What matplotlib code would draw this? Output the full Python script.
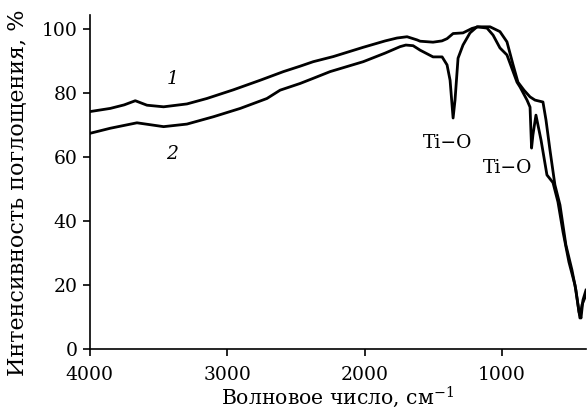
import matplotlib.pyplot as plt

# IR spectra
wn1 = [4000, 3851, 3750, 3669, 3584, 3463, 3293, 3148, 2956, 2760, 2591, 2469,
       2374, 2228, 2010, 1850, 1764, 1691, 1618, 1596, 1502, 1437, 1400, 1356,
       1284, 1218, 1175, 1087, 1015, 964, 920, 884, 840, 796, 760, 702, 680,
       651, 615, 578, 535, 491, 462, 440, 425, 411, 389]
ab1 = [74.2, 75.2, 76.3, 77.6, 76.2, 75.7, 76.6, 78.3, 81.0, 84.0, 86.7, 88.4,
       89.8, 91.4, 94.3, 96.3, 97.2, 97.6, 96.6, 96.2, 95.9, 96.3, 97.0, 98.6,
       98.8, 100.2, 100.7, 100.7, 99.2, 96.0, 88.9, 83.4, 80.9, 78.8, 77.8, 77.2, 71.6,
       62.2, 51.3, 45.0, 32.5, 24.7, 18.4, 11.6, 9.7, 15.3, 18.4]

wn2 = [4000, 3851, 3657, 3463, 3293, 3100, 2905, 2711, 2615, 2469, 2374, 2251,
       2010, 1850, 1742, 1700, 1647, 1596, 1502, 1436, 1400, 1378, 1356, 1342,
       1320, 1284, 1233, 1182, 1109, 1065, 1015, 964, 891, 869, 818, 796, 785,
       775, 753, 716, 673, 629, 593, 556, 513, 469, 447, 433, 418, 389]
ab2 = [67.4, 69.0, 70.7, 69.5, 70.3, 72.6, 75.2, 78.3, 80.9, 83.0, 84.6, 86.7,
       89.8, 92.5, 94.5, 95.0, 94.8, 93.4, 91.3, 91.3, 88.8, 84.0, 72.2, 77.8,
       90.9, 95.0, 98.8, 100.7, 100.3, 98.1, 94.1, 91.9, 83.4, 81.9, 77.8, 75.6, 62.8,
       66.9, 73.1, 65.3, 54.4, 52.0, 46.0, 36.6, 27.2, 20.0, 13.8, 9.7, 13.8, 16.9]

xticks = [4000, 3000, 2000, 1000]
yticks = [0, 20, 40, 60, 80, 100]

plt.rcParams["font.family"] = "DejaVu Serif"
plt.rcParams["mathtext.fontset"] = "dejavuserif"

fig = plt.figure(figsize=(5.87, 4.16), dpi=100)
ax = fig.add_axes([0.153, 0.161, 0.845, 0.803])

ax.plot(wn1, ab1, color="black", linewidth=2.0)
ax.plot(wn2, ab2, color="black", linewidth=2.0)

# curve labels and band assignments
ax.text(3400, 84.5, "1", style="italic", fontsize=13.5, ha="center", va="center")
ax.text(3400, 61, "2", style="italic", fontsize=13.5, ha="center", va="center")
ax.text(1393, 64.4, "Ti\u2212O", fontsize=13.5, ha="center", va="center")
ax.text(957, 56.6, "Ti\u2212O", fontsize=13.5, ha="center", va="center")

ax.set_xlim(4000, 390)
ax.set_ylim(0, 104.4)
ax.set_xticks(xticks)
ax.set_yticks(yticks)
ax.tick_params(labelsize=13.5, direction="out", length=5, width=1.2)
ax.tick_params(axis="x", pad=7)
ax.tick_params(axis="y", pad=4)

for side in ["top", "right"]:
    ax.spines[side].set_visible(False)
for side in ["left", "bottom"]:
    ax.spines[side].set_linewidth(1.2)

ax.set_xlabel("Волновое число, см$^{-1}$", fontsize=14.7, labelpad=1)
ax.set_ylabel("Интенсивность поглощения, %", fontsize=16)
ax.yaxis.set_label_coords(-0.122, 0.467)

fig.savefig("out.png", dpi=100)
plt.close()
